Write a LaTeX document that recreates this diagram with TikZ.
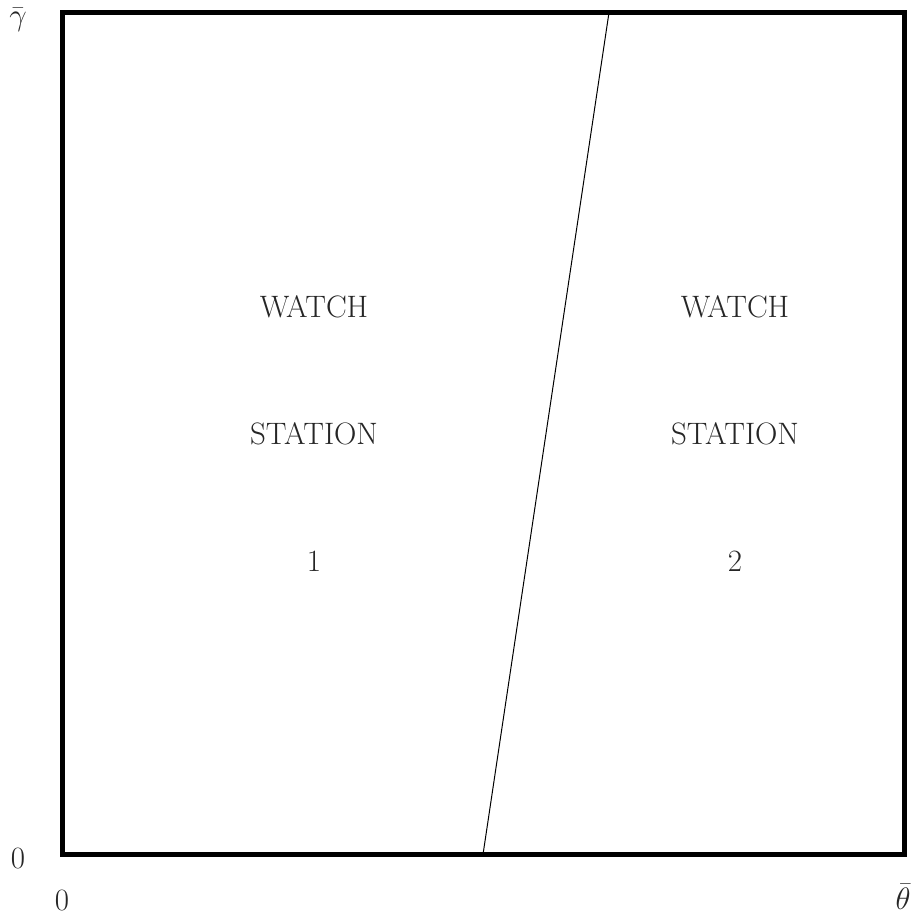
\documentclass[tikz,border=0pt]{standalone}
\begin{document}
\begin{tikzpicture}[x=1pt,y=-1pt,
  lbl/.style={font=\fontsize{31}{36}\selectfont, text=black!85, inner sep=0pt},
  axis/.style={font=\fontsize{24.88}{30}\selectfont, scale=1.246, text=black!85, inner sep=0pt}]
\useasboundingbox (0,0) rectangle (915,915);
\coordinate (bl) at (62.5,854.5);
\coordinate (tr) at (904.5,12.5);
\draw[line width=5pt] (bl) rectangle (tr);
\coordinate (lb) at (483,854.5);
\coordinate (lt) at (609,12.5);
\draw[line width=1pt] (lb) -- (lt);
\node[lbl] (w1) at (314,307) {WATCH};
\node[lbl] (s1) at (314,434) {STATION};
\node[lbl] (n1) at (314,561) {1};
\node[lbl] (w2) at (735,307) {WATCH};
\node[lbl] (s2) at (735,434) {STATION};
\node[lbl] (n2) at (735,561) {2};
\node[axis] (g) at (18,20) {$\bar\gamma$};
\node[lbl] (y0) at (18,858) {0};
\node[lbl] (x0) at (62,900) {0};
\node[axis] (t) at (903,897) {$\bar\theta$};
\end{tikzpicture}
\end{document}
